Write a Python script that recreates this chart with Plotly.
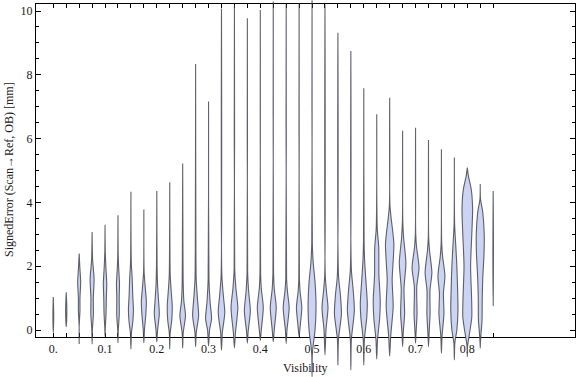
import plotly.graph_objects as go

# ---------------- data ----------------
visibility = [0.0, 0.025, 0.05, 0.075, 0.1, 0.125, 0.15, 0.175, 0.2, 0.225,
              0.25, 0.275, 0.3, 0.325, 0.35, 0.375, 0.4, 0.425, 0.45, 0.475,
              0.5, 0.525, 0.55, 0.575, 0.6, 0.625, 0.65, 0.675, 0.7, 0.725,
              0.75, 0.775, 0.8, 0.825, 0.85]

err_min = [-0.08, 0.10, -0.44, -0.44, -0.20, -0.40, -0.60, -0.40, -0.37, -0.60,
           -0.57, -0.52, -0.50, -0.63, -0.56, -0.41, -0.33, -0.37, -0.42, -0.20,
           -1.46, -0.78, -1.10, -1.25, -1.10, -0.91, -0.82, -0.52, -0.41, -0.52,
           -0.73, -0.94, -0.84, -0.57, 0.76]

err_max = [1.03, 1.18, 2.40, 3.07, 3.30, 3.60, 4.33, 3.78, 4.36, 4.63,
           5.22, 8.34, 7.16, 10.08, 10.19, 9.77, 10.03, 10.30, 10.20, 10.24,
           10.34, 10.20, 9.32, 8.75, 7.58, 6.76, 7.28, 6.25, 6.34, 5.96,
           5.67, 5.41, 5.09, 4.58, 4.36]

# density profile of each violin: error levels and relative half-widths
density_y = [
    [0.5],
    [0.65],
    [0.1, 0.6, 1.0, 1.5, 2.0],
    [0.0, 0.5, 1.0, 1.6, 2.2],
    [0.1, 0.5, 1.0, 1.45, 2.0, 2.5],
    [0.0, 0.5, 1.0, 1.45, 2.0, 2.4],
    [-0.1, 0.3, 0.65, 1.1, 1.6, 2.1],
    [0.0, 0.5, 0.9, 1.3, 1.8],
    [0.0, 0.5, 0.9, 1.4, 2.0],
    [-0.1, 0.3, 0.75, 1.2, 1.7, 2.5],
    [-0.1, 0.45, 0.9, 1.5, 2.5],
    [-0.1, 0.45, 1.0, 1.6, 2.5],
    [0.0, 0.35, 0.9, 1.6],
    [-0.1, 0.55, 1.1, 1.7],
    [-0.1, 0.7, 1.3, 1.9],
    [-0.05, 0.6, 1.2, 1.8],
    [0.0, 0.7, 1.3, 1.8],
    [0.0, 0.7, 1.3, 1.8],
    [0.0, 0.7, 1.2, 1.6],
    [0.1, 0.7, 1.2, 1.6],
    [-0.7, 0.0, 0.7, 1.5, 2.1, 2.7],
    [0.0, 0.7, 1.2, 1.7],
    [-0.3, 0.5, 1.1, 1.7],
    [-0.3, 0.6, 1.3, 1.9],
    [-0.3, 0.4, 0.85, 1.5, 2.2, 2.8],
    [-0.3, 0.4, 0.95, 1.7, 2.6, 3.2],
    [-0.2, 0.73, 1.57, 2.7, 3.5, 3.9],
    [-0.1, 0.5, 1.3, 2.1, 2.9, 3.4],
    [-0.1, 0.5, 1.35, 1.95, 2.6, 3.0],
    [-0.1, 0.5, 1.25, 1.8, 2.5, 2.9],
    [-0.2, 0.5, 1.15, 1.7, 2.3, 2.7],
    [-0.4, 0.0, 0.6, 1.2, 2.0, 2.6, 3.3],
    [-0.5, -0.15, 0.4, 1.0, 2.0, 3.0, 3.8, 4.4, 4.85],
    [-0.4, -0.1, 0.3, 1.0, 1.6, 2.4, 3.0, 3.7, 4.1],
    [2.5],
]

density_w = [
    [0.4],
    [0.6],
    [0.0, 0.8, 0.8, 1.5, 0.6],
    [0.3, 1.3, 1.2, 2.0, 0.5],
    [0.3, 1.0, 1.3, 1.7, 0.8, 0.2],
    [0.3, 1.3, 1.2, 1.5, 0.6, 0.2],
    [0.5, 2.0, 2.5, 1.8, 1.3, 0.4],
    [0.6, 2.0, 2.5, 1.5, 0.3],
    [0.8, 2.5, 1.8, 0.8, 0.3],
    [0.4, 2.0, 2.5, 1.5, 0.5, 0.2],
    [0.5, 2.8, 1.2, 0.5, 0.3],
    [0.6, 3.0, 1.8, 0.6, 0.3],
    [1.0, 3.0, 1.5, 0.4],
    [0.8, 3.3, 1.8, 0.4],
    [1.0, 3.4, 1.5, 0.3],
    [0.8, 3.0, 1.3, 0.3],
    [1.0, 3.0, 1.0, 0.3],
    [1.0, 3.0, 1.0, 0.3],
    [0.8, 3.0, 1.3, 0.4],
    [1.0, 2.7, 1.0, 0.3],
    [0.4, 3.0, 4.0, 3.0, 1.2, 0.3],
    [1.0, 3.0, 1.5, 0.3],
    [0.5, 3.5, 2.5, 0.6],
    [0.5, 3.5, 2.2, 0.5],
    [0.6, 3.0, 3.5, 2.2, 0.8, 0.3],
    [0.8, 3.0, 3.5, 2.2, 2.0, 0.5],
    [1.0, 3.5, 2.5, 4.2, 1.5, 0.3],
    [0.6, 2.0, 1.4, 3.3, 1.0, 0.2],
    [0.5, 1.5, 1.2, 3.5, 1.0, 0.2],
    [0.6, 1.6, 1.5, 3.4, 1.0, 0.2],
    [0.6, 2.5, 2.0, 3.5, 1.2, 0.3],
    [0.5, 2.5, 3.6, 3.3, 2.5, 1.5, 0.3],
    [0.3, 2.0, 4.5, 4.3, 3.3, 4.5, 5.3, 4.0, 1.0],
    [0.2, 0.8, 1.8, 2.0, 2.5, 3.8, 4.0, 2.5, 0.3],
    [0.3],
]

x_tick_labels = ["0.", "0.1", "0.2", "0.3", "0.4", "0.5", "0.6", "0.7", "0.8"]
y_tick_values = [0, 2, 4, 6, 8, 10]

# ---------------- layout geometry (pixels of the 576x377 page) ----------------
W, H = 576, 377
PX_X0, PX_PER_X = 53.3, 517.5     # pixel of visibility 0, pixels per unit
PX_Y0, PX_PER_Y = 330.0, 31.9     # pixel of error 0, pixels per unit
FRAME_L, FRAME_R, FRAME_T, FRAME_B = 36.0, 575.0, 4.3, 337.3


def px2x(px):
    return (px - PX_X0) / PX_PER_X


def py2y(py):
    return (PX_Y0 - py) / PX_PER_Y


FONT = "Liberation Serif, Times New Roman, serif"
FILL = "rgb(204,212,244)"
EDGE = "rgba(60,60,70,0.8)"

fig = go.Figure()

# empty trace so the frame subplot is drawn
fig.add_trace(go.Scatter(x=[], y=[], xaxis="x", yaxis="y",
                         showlegend=False, hoverinfo="skip"))

for xv, lo, hi, ky, kw in zip(visibility, err_min, err_max, density_y, density_w):
    ys = [lo] + ky + [hi]
    ws = [0.0] + kw + [0.0]
    right_x = [xv + w / PX_PER_X for w in ws]
    left_x = [xv - w / PX_PER_X for w in ws]
    px = right_x + left_x[::-1]
    py = ys + ys[::-1]
    fig.add_trace(go.Scatter(
        x=px, y=py, xaxis="x2", yaxis="y2",
        mode="lines", fill="toself", fillcolor=FILL,
        line=dict(color=EDGE, width=1.1, shape="spline", smoothing=0.7),
        showlegend=False, hoverinfo="skip"))

tick_text = []
for i, v in enumerate(visibility):
    tick_text.append(x_tick_labels[i // 4] if i % 4 == 0 and i // 4 < len(x_tick_labels) else "")

axis_font = dict(family=FONT, size=12, color="#1a1a1a")

fig.update_layout(
    width=W, height=H, autosize=False,
    margin=dict(l=0, r=0, t=0, b=0, pad=0),
    paper_bgcolor="white", plot_bgcolor="rgba(0,0,0,0)",
    showlegend=False,
    xaxis=dict(
        domain=[FRAME_L / W, FRAME_R / W],
        range=[px2x(FRAME_L), px2x(FRAME_R)],
        anchor="y", showgrid=False, zeroline=False,
        showline=True, linecolor="black", linewidth=1, mirror="ticks",
        ticks="inside", ticklen=4, tickcolor="black", tickwidth=1,
        tickmode="array", tickvals=visibility, ticktext=tick_text,
        tickfont=axis_font, automargin=False,
    ),
    yaxis=dict(
        domain=[1 - FRAME_B / H, 1 - FRAME_T / H],
        range=[py2y(FRAME_B), py2y(FRAME_T)],
        anchor="x", showgrid=False, zeroline=False,
        showline=True, linecolor="black", linewidth=1, mirror="ticks",
        ticks="inside", ticklen=5, tickcolor="black", tickwidth=1,
        tickmode="array", tickvals=y_tick_values,
        ticktext=[str(v) for v in y_tick_values],
        minor=dict(dtick=0.5, tick0=0, ticks="inside", ticklen=3,
                   tickcolor="black", tickwidth=1, showgrid=False),
        tickfont=axis_font, automargin=False,
    ),
    xaxis2=dict(domain=[0, 1], range=[px2x(0), px2x(W)], anchor="y2",
                visible=False, fixedrange=True),
    yaxis2=dict(domain=[0, 1], range=[py2y(H), py2y(0)], anchor="x2",
                visible=False, fixedrange=True),
    annotations=[
        dict(text="Visibility", xref="paper", yref="paper",
             x=305 / W, y=1 - 368 / H, xanchor="center", yanchor="middle",
             showarrow=False, font=axis_font),
        dict(text="SignedError (Scan\u2192Ref, OB) [mm]", xref="paper", yref="paper",
             x=9 / W, y=1 - 170 / H, xanchor="center", yanchor="middle",
             textangle=-90, showarrow=False, font=axis_font),
    ],
)

fig.write_html(
    "out.html",
    config={"displayModeBar": False},
    post_script="document.body.style.margin='0px';document.body.style.overflow='hidden';",
)
